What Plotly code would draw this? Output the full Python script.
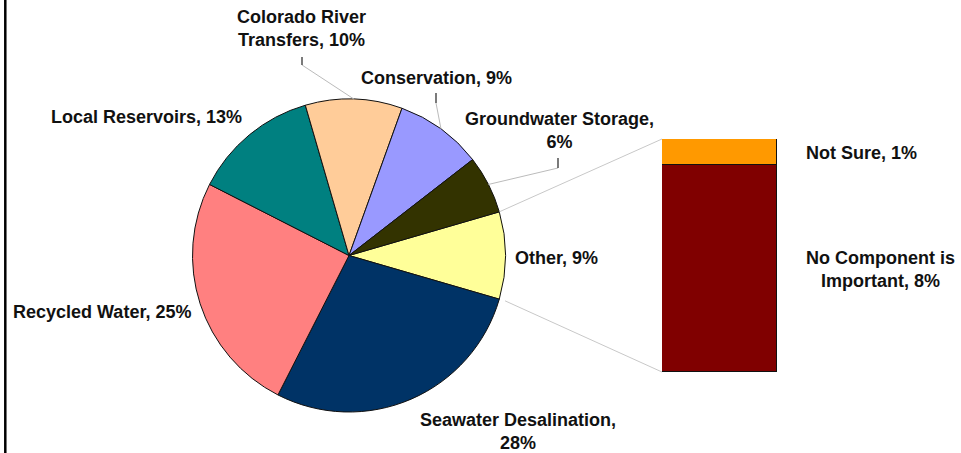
import math
import plotly.graph_objects as go

# ---- data ----
pie_labels = ["Other", "Seawater Desalination", "Recycled Water", "Local Reservoirs",
              "Colorado River Transfers", "Conservation", "Groundwater Storage"]
pie_values = [9, 28, 25, 13, 10, 9, 6]
pie_colors = ["#FFFF99", "#003366", "#FF8080", "#008080", "#FFCC99", "#9999FF", "#333300"]

bar_labels = ["No Component is Important", "Not Sure"]
bar_values = [8, 1]
bar_colors = ["#800000", "#FF9900"]

# ---- layout helpers (pixel -> paper) ----
W, H = 961, 453
def px(x): return x / W
def py(y): return 1 - y / H

PIE_L, PIE_R, PIE_T, PIE_B = 192.5, 505.5, 99, 412
cx, cy = (PIE_L + PIE_R) / 2, (PIE_T + PIE_B) / 2
R = (PIE_R - PIE_L) / 2

BAR_L, BAR_R, BAR_T, BAR_B = 662, 777, 139, 372

total = sum(pie_values)
rotation = 90 - 360 * pie_values[0] / total / 2  # centre "Other" on the right

def edge(angle_deg, rr=R):
    a = math.radians(angle_deg)
    return cx + rr * math.sin(a), cy - rr * math.cos(a)

# slice angles (clockwise from 12 o'clock)
angles = []
acc = rotation
for v in pie_values:
    a0 = acc
    acc += 360 * v / total
    angles.append((a0, acc))

fig = go.Figure()
fig.add_trace(go.Pie(
    labels=pie_labels, values=pie_values, sort=False, direction="clockwise",
    rotation=rotation, textinfo="none", hoverinfo="label+percent",
    marker=dict(colors=pie_colors, line=dict(color="#111111", width=1)),
    domain=dict(x=[px(PIE_L), px(PIE_R)], y=[py(PIE_B), py(PIE_T)]),
    showlegend=False,
))

for lab, val, col in zip(bar_labels, bar_values, bar_colors):
    fig.add_trace(go.Bar(
        x=[0], y=[val], width=1, name=lab, marker=dict(color=col, line=dict(color="#111111", width=1)),
        showlegend=False, xaxis="x", yaxis="y",
    ))

shapes = []
# left border
shapes.append(dict(type="line", xref="paper", yref="paper", x0=px(5.3), x1=px(5.3), y0=0, y1=1,
                   line=dict(color="black", width=2.5)))
# connector lines pie "Other" -> bar
ux, uy = edge(angles[0][0])
lx, ly = edge(angles[0][1], R + 6)
shapes.append(dict(type="line", xref="paper", yref="paper", x0=px(ux), y0=py(uy), x1=px(BAR_L), y1=py(BAR_T),
                   line=dict(color="#C8C8C8", width=1)))
shapes.append(dict(type="line", xref="paper", yref="paper", x0=px(lx), y0=py(ly), x1=px(BAR_L), y1=py(BAR_B),
                   line=dict(color="#C8C8C8", width=1)))

# leader lines (label anchor point, tick top)
leaders = {
    "Colorado River Transfers": ((302, 65), 57),
    "Conservation": ((436, 103), 93),
    "Groundwater Storage": ((558, 168), 158),
}
for i, name in enumerate(pie_labels):
    if name in leaders:
        (lx2, ly2), ttop = leaders[name]
        mid = (angles[i][0] + angles[i][1]) / 2
        ex, ey = edge(mid)
        shapes.append(dict(type="line", xref="paper", yref="paper", x0=px(ex), y0=py(ey), x1=px(lx2), y1=py(ly2),
                           line=dict(color="#BBBBBB", width=1)))
        shapes.append(dict(type="line", xref="paper", yref="paper", x0=px(lx2), y0=py(ly2), x1=px(lx2), y1=py(ttop),
                           line=dict(color="#222222", width=1.2)))

# labels
label_text = {
    "Other": "Other, 9%",
    "Seawater Desalination": "Seawater Desalination,<br>28%",
    "Recycled Water": "Recycled Water, 25%",
    "Local Reservoirs": "Local Reservoirs, 13%",
    "Colorado River Transfers": "Colorado River<br>Transfers, 10%",
    "Conservation": "Conservation, 9%",
    "Groundwater Storage": "Groundwater Storage,<br>6%",
    "No Component is Important": "No Component is<br>Important, 8%",
    "Not Sure": "Not Sure, 1%",
}
label_pos = {
    "Other": (556, 258),
    "Seawater Desalination": (518, 431),
    "Recycled Water": (102, 312),
    "Local Reservoirs": (146, 117),
    "Colorado River Transfers": (301, 29),
    "Conservation": (436, 78),
    "Groundwater Storage": (559, 130),
    "No Component is Important": (880, 269),
    "Not Sure": (861, 153),
}
annotations = []
for name in pie_labels + bar_labels:
    x, y = label_pos[name]
    annotations.append(dict(xref="paper", yref="paper", x=px(x), y=py(y), text=label_text[name],
                            showarrow=False, xanchor="center", yanchor="middle", align="center",
                            font=dict(family="Liberation Sans, Arial, sans-serif", size=18, color="#111111",
                                      weight="bold")))

fig.update_layout(
    width=W, height=H, margin=dict(l=0, r=0, t=0, b=0),
    paper_bgcolor="white", plot_bgcolor="rgba(0,0,0,0)",
    barmode="stack", bargap=0,
    xaxis=dict(domain=[px(BAR_L), px(BAR_R)], range=[-0.5, 0.5], visible=False, fixedrange=True),
    yaxis=dict(domain=[py(BAR_B), py(BAR_T)], range=[0, sum(bar_values)], visible=False, fixedrange=True),
    shapes=shapes, annotations=annotations,
)

fig.write_html("out.html", config={"displayModeBar": False},
               post_script="document.body.style.margin='0';document.body.style.overflow='hidden';")
